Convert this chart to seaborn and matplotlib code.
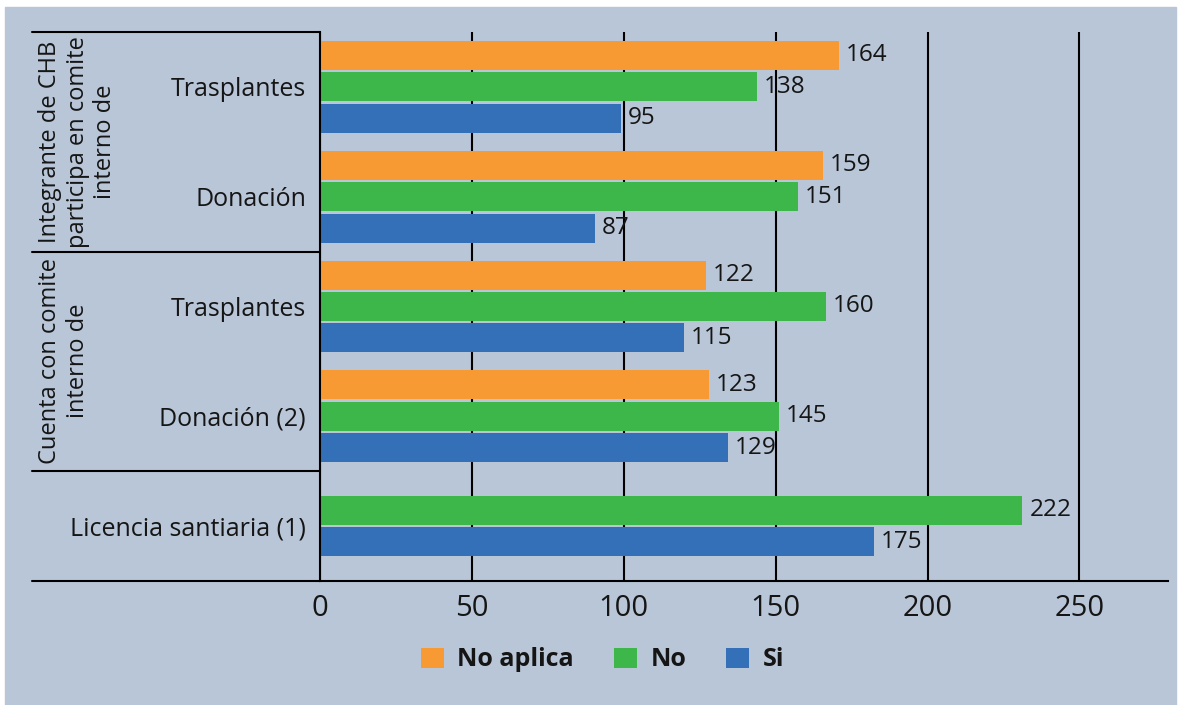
import seaborn as sns
import matplotlib.pyplot as plt
import pandas as pd
import numpy as np
from matplotlib.patches import Rectangle

sns.set_theme(style="white")
plt.rcParams['font.family'] = ['Open Sans', 'DejaVu Sans']

# datos
claves = ['chb_tras', 'chb_don', 'cc_tras', 'cc_don', 'lic']
etiquetas = ['Trasplantes', 'Donación', 'Trasplantes', 'Donación (2)', 'Licencia santiaria (1)']
grupos = ['Integrante de CHB\nparticipa en comite\ninterno de', 'Cuenta con comite\ninterno de']
series = ['No aplica', 'No', 'Si']
no_aplica = [164, 159, 122, 123, np.nan]
no = [138, 151, 160, 145, 222]
si = [95, 87, 115, 129, 175]
ticks_txt = ['0', '50', '100', '150', '200', '250']
colores = ['#F89A34', '#3DB64A', '#3370B8']

filas = []
for s, vals in zip(series, [no_aplica, no, si]):
    for k, v in zip(claves, vals):
        if not np.isnan(v):
            filas.append({'clave': k, 'serie': s, 'valor': v})
df = pd.DataFrame(filas)

W, H = 1179, 705
fig = plt.figure(figsize=(W / 100, H / 100), dpi=100, facecolor='white')
fig.add_artist(Rectangle((5 / W, 0), (1176 - 5) / W, (705 - 7) / H,
                         transform=fig.transFigure, color='#B9C6D8', zorder=-10))
ax = fig.add_axes([320 / W, 1 - 581 / H, 848 / W, 549 / H])
ax.set_facecolor('none')

texto = '#151515'

# tres series para los cuatro primeros, dos para licencia (centradas)
sns.barplot(data=df[df.clave != 'lic'], y='clave', x='valor', hue='serie',
            order=claves, hue_order=series, palette=colores, orient='h',
            width=0.86, gap=0.08, saturation=1, errorbar=None,
            linewidth=0, ax=ax)
sns.barplot(data=df[df.clave == 'lic'], y='clave', x='valor', hue='serie',
            order=claves, hue_order=series[1:], palette=colores[1:], orient='h',
            width=0.573, gap=0.08, saturation=1, errorbar=None,
            linewidth=0, legend=False, ax=ax)

for c in ax.containers:
    ax.bar_label(c, fmt='%d', padding=5, fontsize=17.5, color=texto)

# el eje original marca 50, 100... cada 48 unidades
ax.set_xticks(np.arange(len(ticks_txt)) * 48, ticks_txt)
ax.set_xlim(0, 268)
ax.set_ylim(4.5, -0.5)
ax.set_yticks(range(len(etiquetas)), etiquetas)
ax.set_xlabel('')
ax.set_ylabel('')
ax.tick_params(axis='y', length=0, pad=10, labelsize=18, labelcolor=texto)
ax.tick_params(axis='x', length=0, pad=9, labelsize=21, labelcolor=texto)
ax.grid(axis='x', color='black', lw=1.5)
ax.grid(axis='y', visible=False)
ax.set_axisbelow(True)
for lado in ['top', 'right']:
    ax.spines[lado].set_visible(False)
for lado in ['left', 'bottom']:
    ax.spines[lado].set_color('black')
    ax.spines[lado].set_linewidth(1.5)

# lineas de la categoria jerarquica
trans = ax.get_yaxis_transform()
x0 = (32 - 320) / 848
for y in [-0.5, 1.5, 3.5, 4.5]:
    ax.plot([x0, 0], [y, y], color='black', lw=1.5, transform=trans, clip_on=False)

fig.text(38 / W, 1 - 142 / H, grupos[0], rotation=90, ha='left', va='center',
         multialignment='center', fontsize=17, color=texto)
fig.text(38 / W, 1 - 361 / H, grupos[1], rotation=90, ha='left', va='center',
         multialignment='center', fontsize=17, color=texto)

handles, labels = ax.get_legend_handles_labels()
if ax.get_legend() is not None:
    ax.get_legend().remove()
fig.legend(handles[:3], labels[:3], loc='center', bbox_to_anchor=(0.511, 1 - 660 / H),
           ncol=3, frameon=False, prop={'weight': 'bold', 'size': 18},
           handlelength=0.9, handleheight=0.9, handletextpad=0.55,
           columnspacing=1.6, labelcolor=texto)

fig.savefig('out.png', dpi=100)
